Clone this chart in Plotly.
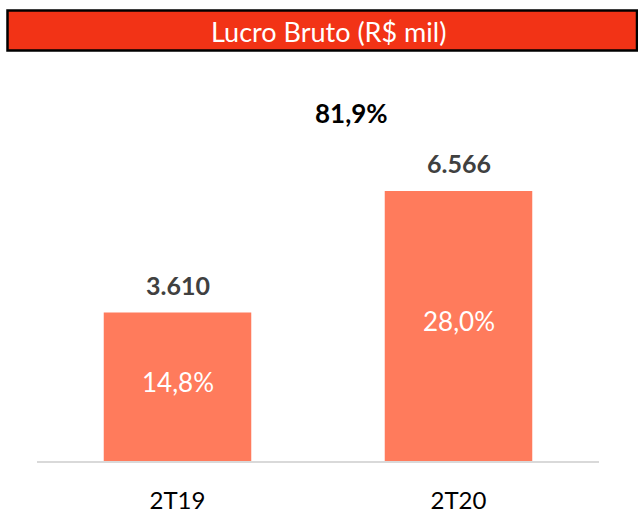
import plotly.graph_objects as go

categories = ["2T19", "2T20"]
values = [3610, 6566]
value_labels = ["3.610", "6.566"]
margin_labels = ["14,8%", "28,0%"]
growth_label = "81,9%"
title_text = "Lucro Bruto (R$ mil)"

W, H = 638, 510
axis_px = 461  # pixel row of the baseline
top_px = 191   # pixel row of the tallest bar top
ymax = max(values) * axis_px / (axis_px - top_px)

def py(p):
    return (axis_px - p) / axis_px

fig = go.Figure()
fig.add_trace(go.Bar(
    x=categories, y=values,
    marker=dict(color="#FF7B5C", line=dict(width=0)),
    width=0.525,
    hoverinfo="skip",
))

annotations = []
for c, v, lab, m in zip(categories, values, value_labels, margin_labels):
    annotations.append(dict(
        x=c, y=v, xref="x", yref="y", text="<b>%s</b>" % lab,
        showarrow=False, yanchor="bottom", yshift=11,
        font=dict(family="Lato", size=25, color="#404040"),
    ))
    annotations.append(dict(
        x=c, y=v / 2, xref="x", yref="y", text=m,
        showarrow=False, yanchor="middle", yshift=5,
        font=dict(family="Lato", size=26, color="white"),
    ))
annotations.append(dict(
    x=351.5 / W, y=py(113), xref="paper", yref="paper",
    text="<b>%s</b>" % growth_label, showarrow=False,
    xanchor="center", yanchor="middle",
    font=dict(family="Lato", size=26, color="#000000"),
))
annotations.append(dict(
    x=328 / W, y=py(31), xref="paper", yref="paper",
    text=title_text, showarrow=False, xanchor="center", yanchor="middle",
    font=dict(family="Lato", size=27, color="white"),
))

fig.update_layout(
    width=W, height=H,
    margin=dict(l=0, r=0, t=0, b=H - axis_px, autoexpand=False),
    paper_bgcolor="white", plot_bgcolor="white",
    showlegend=False,
    xaxis=dict(
        domain=[37 / W, 599 / W], range=[-0.5, 1.5],
        showline=True, linecolor="#D9D9D9", linewidth=1.5,
        showgrid=False, zeroline=False, ticks="",
        tickfont=dict(family="Lato", size=24, color="#000000"),
        ticklabelstandoff=17, automargin=False,
        fixedrange=True,
    ),
    yaxis=dict(range=[0, ymax], visible=False, showgrid=False,
               zeroline=False, fixedrange=True, automargin=False),
    shapes=[dict(
        type="rect", xref="paper", yref="paper",
        x0=7.5 / W, x1=637 / W, y0=py(50.5), y1=py(10.5),
        fillcolor="#F23316", line=dict(color="#000000", width=2.5),
        layer="above",
    )],
    annotations=annotations,
)

fig.write_html(
    "out.html",
    config={"displayModeBar": False},
    post_script="document.body.style.margin='0';document.body.style.overflow='hidden';",
)
